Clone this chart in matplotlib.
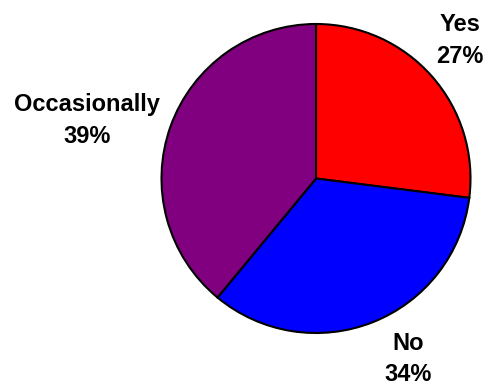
import matplotlib
matplotlib.use("Agg")
import matplotlib.pyplot as plt

# Survey answer shares (percent)
categories = ["Yes", "No", "Occasionally"]
shares = [27, 34, 39]
colors = ["#ff0000", "#0000ff", "#800080"]

# Pie geometry in pixels (figure is 488 x 387 px)
W, H = 488, 387
CX, CY, R = 316, 178.5, 154.5

# Label placement in pixels: (centre x, baseline of name line, baseline of percent line)
label_px = {"Yes": (460, 31, 63), "No": (408, 350, 381), "Occasionally": (87, 111, 143)}

fig = plt.figure(figsize=(W / 100, H / 100), dpi=100)
ax = fig.add_axes([0, 0, 1, 1])
ax.pie(shares, colors=colors, startangle=90, counterclock=False, radius=1.0,
       wedgeprops=dict(edgecolor="black", linewidth=1.5))
ax.set_xlim(-CX / R, (W - CX) / R)
ax.set_ylim(-(H - CY) / R, CY / R)
ax.set_aspect("auto")
ax.axis("off")

font = dict(fontsize=17, fontweight="bold", family="Liberation Sans", color="black")
for cat, val in zip(categories, shares):
    px, b1, b2 = label_px[cat]
    x = (px - CX) / R
    ax.text(x, (CY - b1) / R, cat, ha="center", va="baseline", **font)
    ax.text(x, (CY - b2) / R, f"{val}%", ha="center", va="baseline", **font)

fig.savefig("out.png", dpi=100)
